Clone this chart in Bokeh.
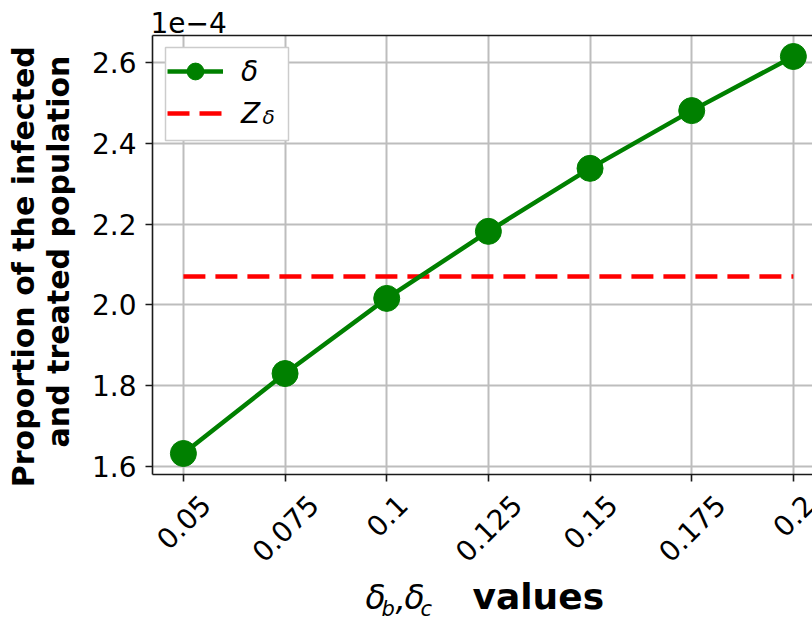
from math import pi
from bokeh.plotting import figure
from bokeh.layouts import column
from bokeh.core.properties import value
from bokeh.models import (Range1d, FixedTicker, CustomJSTickFormatter, LinearAxis,
                          Label, LabelSet, ColumnDataSource, Grid, BoxAnnotation)
from bokeh.embed import file_html
from bokeh.resources import INLINE

# ---------------- data ----------------
delta_values = [0.05, 0.075, 0.1, 0.125, 0.15, 0.175, 0.2]
x_tick_labels = ["0.05", "0.075", "0.1", "0.125", "0.15", "0.175", "0.2"]
proportion_delta = [1.632e-4, 1.830e-4, 2.016e-4, 2.182e-4, 2.338e-4, 2.481e-4, 2.615e-4]
z_delta = [2.070e-4, 2.070e-4, 2.070e-4, 2.070e-4, 2.070e-4, 2.070e-4, 2.070e-4]
y_ticks = [1.6e-4, 1.8e-4, 2.0e-4, 2.2e-4, 2.4e-4, 2.6e-4]
y_scale_text = "1e\u22124"
legend_delta = "\u03b4"
legend_z = "Z"
legend_z_sub = "\u03b4"
ylabel_line1 = "Proportion of the  infected"
ylabel_line2 = "and treated population"

FONT = "DejaVu Sans"
W = 812
MAIN_H = 490
STRIP_H = 621 - MAIN_H
LEFT, TOP, BOTTOM = 152, 35, 474
X0, X1 = 0.0424, 0.2047
Y0, Y1 = 1.580e-4, 2.667e-4
BASE_SHIFT = 0.36   # bokeh alphabetic baseline correction (em)


def px_to_x(px):
    return X0 + (px - LEFT) * (X1 - X0) / (W - LEFT)


def px_to_y(py):
    return Y1 - (py - TOP) * (Y1 - Y0) / (BOTTOM - TOP)


p = figure(width=W, height=MAIN_H, output_backend="svg", toolbar_location=None,
           x_range=Range1d(X0, X1), y_range=Range1d(Y0, Y1),
           min_border_left=LEFT, min_border_right=0, min_border_top=TOP,
           min_border_bottom=MAIN_H - BOTTOM, x_axis_type=None, y_axis_type=None)
p.outline_line_color = None
p.background_fill_color = "white"
p.border_fill_color = "white"

xticker = FixedTicker(ticks=delta_values)
yticker = FixedTicker(ticks=y_ticks)

xaxis = LinearAxis(ticker=xticker, major_label_text_font_size="0px",
                   major_label_text_color=None, major_label_standoff=0)
yaxis = LinearAxis(ticker=yticker,
                   formatter=CustomJSTickFormatter(code="return (tick*1e4).toFixed(1);"),
                   major_label_text_font_size="28px", major_label_text_font=FONT,
                   major_label_text_color="black", major_label_standoff=9)
topaxis = LinearAxis(ticker=FixedTicker(ticks=[]), major_label_text_font_size="0px",
                     major_label_text_color=None, major_tick_out=0, major_label_standoff=0)
for ax in (xaxis, yaxis, topaxis):
    ax.axis_line_color = "#1a1a1a"
    ax.axis_line_width = 1.6
    ax.major_tick_line_width = 1.6
    ax.major_tick_line_color = "#1a1a1a"
    ax.major_tick_in = 0
    ax.minor_tick_line_color = None
xaxis.major_tick_out = 7
yaxis.major_tick_out = 7
topaxis.major_tick_out = 0
p.add_layout(xaxis, "below")
p.add_layout(yaxis, "left")
p.add_layout(topaxis, "above")

p.add_layout(Grid(dimension=0, ticker=xticker, grid_line_color="#bdbdbd", grid_line_width=2))
p.add_layout(Grid(dimension=1, ticker=yticker, grid_line_color="#bdbdbd", grid_line_width=2))

# legend frame (drawn as a box so the subscript can sit on top of it)
p.add_layout(BoxAnnotation(left=px_to_x(165), right=px_to_x(288),
                           top=px_to_y(47), bottom=px_to_y(140),
                           fill_color="white", fill_alpha=1.0,
                           line_color="#cccccc", line_width=1.5, line_alpha=1.0))
p.add_layout(Label(x=262, y=124 - BASE_SHIFT * 20, x_units="canvas", y_units="canvas",
                   text=legend_z_sub,
                   text_font=FONT, text_font_style="italic", text_font_size="20px",
                   text_baseline="alphabetic", text_align="left", text_color="black"))

# series
p.line(delta_values, z_delta, line_color="red", line_width=4.5, line_dash="22 10",
       legend_label=legend_z + "  ")
p.line(delta_values, proportion_delta, line_color="green", line_width=4.5,
       legend_label=legend_delta)
p.scatter(delta_values, proportion_delta, size=26, fill_color="green",
          line_color="green", legend_label=legend_delta)

lg = p.legend[0]
lg.items = [lg.items[1], lg.items[0]]
lg.location = "top_left"
lg.margin = 15
lg.padding = 3
lg.spacing = -6
lg.glyph_width = 56
lg.glyph_height = 42
lg.label_height = 34
lg.label_standoff = 18
lg.label_text_font = FONT
lg.label_text_font_size = "28px"
lg.label_text_font_style = "italic"
lg.label_text_color = "black"
lg.border_line_color = None
lg.background_fill_alpha = 0.0

# scale text above the frame
p.add_layout(Label(x=150, y=32 - BASE_SHIFT * 28, x_units="canvas", y_units="canvas",
                   text=y_scale_text, text_font=FONT, text_font_size="28px",
                   text_baseline="alphabetic", text_align="left", text_color="black"),
             "above")

# y label (two lines)
for txt, xb, yc in ((ylabel_line1, 34, 261), (ylabel_line2, 69, 251)):
    p.add_layout(Label(x=xb - BASE_SHIFT * 30, y=yc, x_units="canvas", y_units="canvas",
                       text=txt, angle=pi / 2, text_font=FONT, text_font_style="bold",
                       text_font_size="30px", text_align="center",
                       text_baseline="alphabetic", text_color="black"), "left")

# ---------------- strip below the axis: tick labels and x label ----------------
p2 = figure(width=W, height=STRIP_H, output_backend="svg", toolbar_location=None,
            x_range=Range1d(X0, X1), y_range=Range1d(0, 1),
            min_border_left=LEFT, min_border_right=0, min_border_top=0,
            min_border_bottom=0, x_axis_type=None, y_axis_type=None)
p2.outline_line_color = None
p2.background_fill_color = "white"
p2.border_fill_color = "white"

fs = 28.0
centers = []
for t in x_tick_labels:
    nd = sum(c.isdigit() for c in t)
    w = fs * (0.636 * nd + 0.318)
    h = fs * 0.73
    centers.append(492 + (w + h) * 0.7071 / 2 - MAIN_H)
src = ColumnDataSource(dict(x=delta_values, y=centers, text=x_tick_labels))
p2.add_layout(LabelSet(x="x", y="y", text="text", source=src, y_units="canvas",
                       angle=pi / 4, text_align="center", text_baseline="middle",
                       text_font=value(FONT), text_font_size=value("28px"),
                       text_color="black"))

xl = [("\u03b4", 365, 609, 33, "italic"),
      ("b", 381, 616, 21, "italic"),
      (",", 395, 609, 33, "italic"),
      ("\u03b4", 404, 609, 33, "italic"),
      ("c", 420, 616, 21, "italic"),
      ("values", 472, 609, 36, "bold")]
for txt, xx, yy, sz, st in xl:
    p2.add_layout(Label(x=xx, y=yy - MAIN_H - BASE_SHIFT * sz, x_units="canvas",
                        y_units="canvas", text=txt, text_font=FONT, text_font_style=st,
                        text_font_size=f"{sz}px", text_baseline="alphabetic",
                        text_align="left", text_color="black"))

layout = column(p, p2, spacing=0)
open("out.html", "w").write(file_html(layout, INLINE))
